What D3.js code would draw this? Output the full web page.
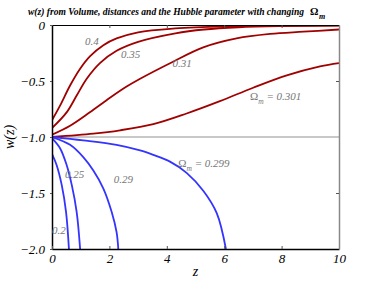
<!DOCTYPE html>
<html>
<head>
<meta charset="utf-8">
<script src="https://cdn.jsdelivr.net/npm/d3@7"></script>
<style>
  body { margin: 0; background: #fff; }
</style>
</head>
<body>
<div id="chart"></div>
<script>
// curves: z values and w(z) for each Omega_m
var z040 = [0, 0.28, 0.63, 0.98, 1.32, 1.79, 2.25, 3.0, 4.3, 6, 8, 10];
var w040 = [-0.85, -0.72, -0.54, -0.39, -0.28, -0.18, -0.12, -0.065, -0.03, -0.012, -0.006, -0.003];
var z035 = [0, 0.51, 0.86, 1.21, 1.67, 2.25, 3.0, 4.3, 5.3, 6.5, 8, 10];
var w035 = [-0.92, -0.78, -0.63, -0.48, -0.34, -0.23, -0.15, -0.074, -0.04, -0.02, -0.01, -0.005];
var z031 = [0, 0.63, 1.32, 2.02, 2.6, 3.07, 4.2, 5.27, 6.43, 7.6, 8.76, 10];
var w031 = [-0.98, -0.90, -0.78, -0.65, -0.55, -0.48, -0.33, -0.20, -0.12, -0.08, -0.06, -0.04];
var z0301 = [0, 1.44, 2.37, 3.53, 4.69, 5.85, 7.01, 8.18, 9.34, 10];
var w0301 = [-1.0, -0.97, -0.94, -0.885, -0.79, -0.68, -0.56, -0.45, -0.37, -0.34];

var z0299 = [0, 1.09, 2.25, 3.07, 3.53, 4.11, 4.69, 5.27, 5.74, 6.06];
var w0299 = [-1.0, -1.03, -1.07, -1.12, -1.16, -1.22, -1.32, -1.48, -1.68, -2.0];
var z029 = [0, 0.63, 1.09, 1.44, 1.79, 2.08, 2.25, 2.31];
var w029 = [-1.0, -1.07, -1.18, -1.30, -1.46, -1.67, -1.85, -2.0];
var z025 = [0, 0.28, 0.51, 0.69, 0.86, 0.98];
var w025 = [-1.01, -1.10, -1.25, -1.43, -1.67, -2.0];
var z020 = [0, 0.16, 0.34, 0.49, 0.59];
var w020 = [-1.15, -1.25, -1.43, -1.67, -2.0];

var xTicks = [0, 2, 4, 6, 8, 10];
var yTicks = [0, -0.5, -1.0, -1.5, -2.0];

var serif = "'Liberation Serif', 'Times New Roman', Times, serif";
var width = 374, height = 281;
var margin = {top: 25, right: 35, bottom: 32, left: 52};

var svg = d3.select("#chart").append("svg")
    .attr("width", width)
    .attr("height", height)
    .attr("font-family", serif);

var x = d3.scaleLinear().domain([0, 10]).range([margin.left, width - margin.right]);
var y = d3.scaleLinear().domain([-2, 0]).range([height - margin.bottom, margin.top]);

svg.append("clipPath").attr("id", "plot")
  .append("rect")
    .attr("x", x(0)).attr("y", y(0))
    .attr("width", x(10) - x(0)).attr("height", y(-2) - y(0));

// w = -1 reference line
svg.append("line")
    .attr("x1", x(0)).attr("x2", x(10))
    .attr("y1", y(-1)).attr("y2", y(-1))
    .attr("stroke", "#c8c8c8")
    .attr("stroke-width", 2);

var line = d3.line()
    .x(function(d) { return x(d[0]); })
    .y(function(d) { return y(d[1]); })
    .curve(d3.curveCatmullRom.alpha(0.5));

var curves = [
    {z: z040, w: w040, color: "#a00000"},
    {z: z035, w: w035, color: "#a00000"},
    {z: z031, w: w031, color: "#a00000"},
    {z: z0301, w: w0301, color: "#a00000"},
    {z: z0299, w: w0299, color: "#3434ff"},
    {z: z029, w: w029, color: "#3434ff"},
    {z: z025, w: w025, color: "#3434ff"},
    {z: z020, w: w020, color: "#3434ff"}
];

svg.append("g").attr("clip-path", "url(#plot)")
  .selectAll("path")
  .data(curves)
  .enter().append("path")
    .attr("d", function(d) { return line(d3.zip(d.z, d.w)); })
    .attr("fill", "none")
    .attr("stroke", function(d) { return d.color; })
    .attr("stroke-width", 1.8);

// axes
var fmt = function(d) { return d === 0 ? "0" : d3.format(".1f")(d); };

var leftAx = svg.append("g")
    .attr("transform", "translate(" + x(0) + ",0)")
    .call(d3.axisLeft(y).tickValues(yTicks).tickFormat(fmt).tickSizeInner(2).tickSizeOuter(0).tickPadding(5));
var bottomAx = svg.append("g")
    .attr("transform", "translate(0," + y(-2) + ")")
    .call(d3.axisBottom(x).tickValues(xTicks).tickSizeInner(-3).tickSizeOuter(0).tickPadding(5));
var topAx = svg.append("g")
    .attr("transform", "translate(0," + y(0) + ")")
    .call(d3.axisTop(x).tickValues([2, 4, 6, 8]).tickSizeInner(-3).tickSizeOuter(0).tickFormat(""));
var rightAx = svg.append("g")
    .attr("transform", "translate(" + x(10) + ",0)")
    .call(d3.axisRight(y).tickValues([-0.5, -1.5]).tickSizeInner(-3).tickSizeOuter(0).tickFormat(""));

[leftAx, bottomAx, topAx].forEach(function(g) {
    g.attr("font-family", serif).attr("font-size", 13);
    g.select(".domain").attr("stroke", "#000").attr("stroke-width", 1.5);
    g.selectAll(".tick line").attr("stroke", "#555");
    g.selectAll("text")
        .attr("font-style", "italic")
        .attr("fill", "#000");
});
topAx.select(".domain").attr("stroke-width", 1.2);
rightAx.select(".domain").attr("stroke", "#888").attr("stroke-width", 1.5);
rightAx.selectAll(".tick line").attr("stroke", "#555");

// axis titles
svg.append("text")
    .attr("x", x(5)).attr("y", 276)
    .attr("text-anchor", "middle")
    .attr("font-style", "italic")
    .attr("font-size", 14)
    .text("z");

svg.append("text")
    .attr("transform", "translate(14," + y(-1) + ") rotate(-90)")
    .attr("text-anchor", "middle")
    .attr("font-style", "italic")
    .attr("font-size", 14)
    .text("w(z)");

// title, with Omega_m as separate pieces
svg.append("text")
    .attr("x", 28).attr("y", 15)
    .attr("font-weight", "bold")
    .attr("font-style", "italic")
    .attr("font-size", 10.5)
    .attr("textLength", 276)
    .attr("lengthAdjust", "spacingAndGlyphs")
    .text("w(z) from Volume, distances and the Hubble parameter  with changing");
svg.append("text")
    .attr("x", 310).attr("y", 15)
    .attr("font-weight", "bold")
    .attr("font-size", 10.5)
    .text("Ω");
svg.append("text")
    .attr("x", 319).attr("y", 19)
    .attr("font-weight", "bold")
    .attr("font-style", "italic")
    .attr("font-size", 8)
    .text("m");

// curve labels
var labels = [
    {t: "0.4", z: 1.15, w: -0.18},
    {t: "0.35", z: 2.4, w: -0.295},
    {t: "0.31", z: 4.2, w: -0.375},
    {t: "0.29", z: 2.15, w: -1.41},
    {t: "0.25", z: 0.45, w: -1.37},
    {t: "0.2", z: 0.0, w: -1.87}
];
svg.selectAll(".lbl")
  .data(labels)
  .enter().append("text")
    .attr("class", "lbl")
    .attr("x", function(d) { return x(d.z); })
    .attr("y", function(d) { return y(d.w); })
    .attr("fill", "#777")
    .attr("font-style", "italic")
    .attr("font-size", 11)
    .text(function(d) { return d.t; });

var omegaLabels = [
    {v: "= 0.301", z: 6.9, w: -0.67},
    {v: "= 0.299", z: 4.4, w: -1.265}
];
omegaLabels.forEach(function(d) {
    var t = svg.append("text")
        .attr("x", x(d.z)).attr("y", y(d.w))
        .attr("fill", "#777")
        .attr("font-size", 11);
    t.append("tspan").text("Ω");
    t.append("tspan").attr("dy", 4).attr("font-size", 7.5).attr("font-style", "italic").text("m");
    t.append("tspan").attr("dy", -4).attr("font-style", "italic").text(" " + d.v);
});
</script>
</body>
</html>
